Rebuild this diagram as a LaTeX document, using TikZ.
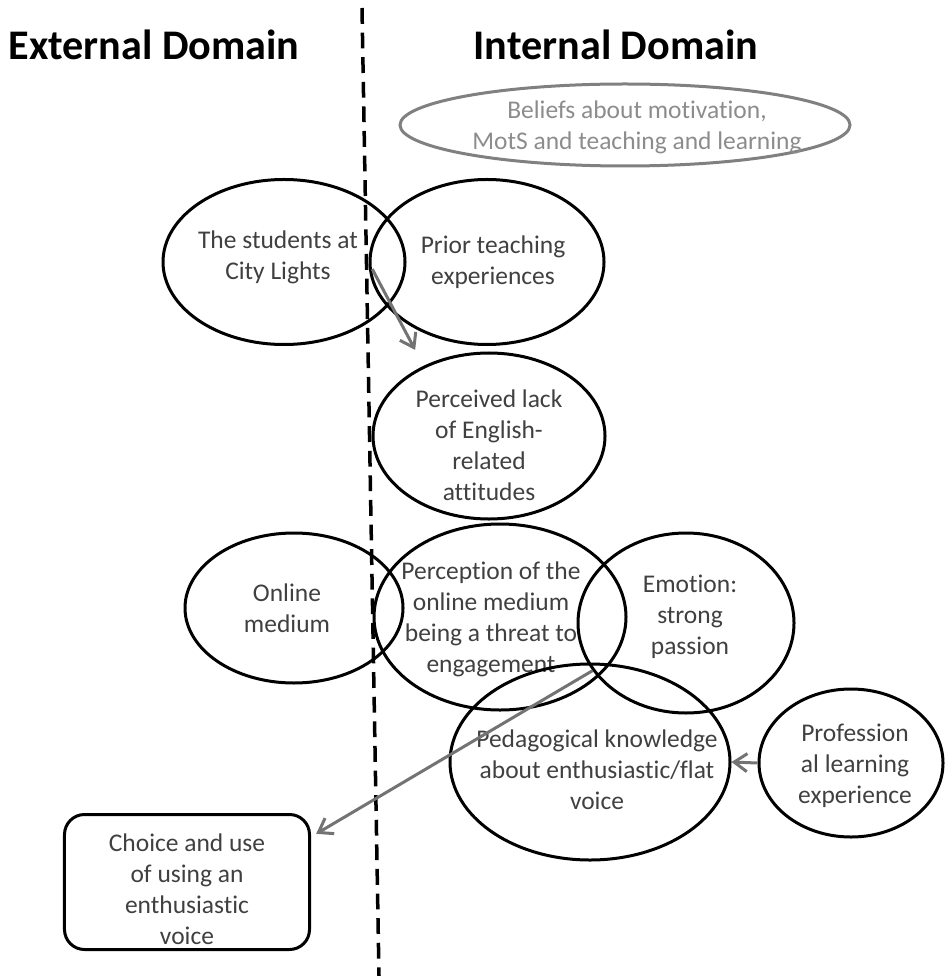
\documentclass[tikz,border=0pt]{standalone}
\usepackage{fontspec}
\setmainfont{Carlito}[Ligatures=NoCommon]
\usepackage{tikz}
\usetikzlibrary{shapes,arrows.meta,positioning}
\tikzstyle{bubble}=[ellipse, draw=black, line width=0.6mm, inner sep=0pt]
\tikzstyle{greybubble}=[ellipse, draw=black!50, line width=0.6mm, inner sep=0pt]
\tikzstyle{choicebox}=[rectangle, rounded corners=4mm, draw=black, line width=0.6mm, inner sep=0pt]
\tikzstyle{txt}=[align=center, inner sep=0pt, text=black!75, font=\fontsize{14.5}{17.6}\selectfont]
\tikzstyle{greytxt}=[txt, text=black!45]
\tikzstyle{title}=[font=\fontsize{24}{28}\selectfont\bfseries, inner sep=0pt]
\tikzstyle{arrow}=[->, >={Straight Barb[length=2.6mm,width=3.6mm]}, draw=black!55, line width=0.6mm]
\tikzstyle{divider}=[line width=0.7mm, dash pattern=on 9pt off 5pt]

\begin{document}
\begin{tikzpicture}[x=0.2mm, y=-0.2mm]
\useasboundingbox (0,0) rectangle (945,976);

\node[title] (ext) at (154,45) {External Domain};
\node[title] (int) at (616,45) {Internal Domain};
\coordinate (divtop) at (362,8);
\coordinate (divbot) at (379,976);
\draw[divider] (divtop) -- (divbot);

\node[greybubble, minimum width=90mm, minimum height=16.4mm] (beliefs) at (625,125) {};
\node[greytxt] (t-beliefs) at (637,127) {Beliefs about motivation,\\MotS and teaching and learning};

\node[bubble, minimum width=48.4mm, minimum height=33mm] (students) at (284,262) {};
\node[txt] (t-students) at (278,257) {The students at\\City Lights};
\node[bubble, minimum width=46.8mm, minimum height=33mm] (prior) at (487,262) {};
\node[txt] (t-prior) at (493,262) {Prior teaching\\experiences};
\node[bubble, minimum width=46.4mm, minimum height=33.2mm] (perceived) at (489,436) {};
\node[txt] (t-perceived) at (489,445) {Perceived lack\\of English-\\related\\attitudes};

\node[bubble, minimum width=43.6mm, minimum height=30mm] (online) at (294,608) {};
\node[txt] (t-online) at (287,608) {Online\\medium};
\node[bubble, minimum width=50.4mm, minimum height=37.2mm] (perception) at (500,617) {};
\node[txt] (t-perception) at (491,619) {Perception of the\\online medium\\being a threat to\\engagement};
\node[bubble, minimum width=43.2mm, minimum height=36mm] (emotion) at (686,623) {};
\node[txt] (t-emotion) at (690,617) {Emotion:\\strong\\passion};

\node[bubble, minimum width=56mm, minimum height=39.2mm] (pedag) at (590,762) {};
\node[txt] (t-pedag) at (597,770) {Pedagogical knowledge\\about enthusiastic/flat\\voice};
\node[bubble, minimum width=36.8mm, minimum height=29.6mm] (profession) at (851,763) {};
\node[txt] (t-profession) at (855,766) {Profession\\al learning\\experience};

\node[choicebox, minimum width=49mm, minimum height=27mm] (choice) at (187,882) {};
\node[txt] (t-choice) at (187,889) {Choice and use\\of using an\\enthusiastic\\voice};

\draw[arrow, shorten <=1.6mm, shorten >=3.6mm] (prior.west) -- (perceived.133);
\draw[arrow, shorten >=1.2mm] (emotion.207) -- (choice.20);
\draw[arrow] (profession.west) -- (pedag.east);

\end{tikzpicture}
\end{document}
